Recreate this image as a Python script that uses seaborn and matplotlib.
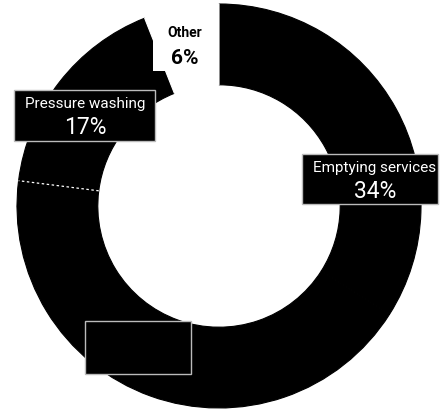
import matplotlib
matplotlib.use("Agg")
import matplotlib.pyplot as plt
import seaborn as sns
import numpy as np
from matplotlib.patches import Rectangle

# ---- data ----
categories = ["Emptying services", "Rental", "Pressure washing", "Other"]
shares = [34, 43, 17, 6]
wedge_colors = ["#000000", "#000000", "#000000", "#ffffff"]

sns.set_theme(style="white")
plt.rcParams["font.family"] = ["Roboto", "DejaVu Sans"]

W, H = 443, 410
fig = plt.figure(figsize=(W / 100, H / 100), dpi=100)
CX, CY, R = 219, 207, 202
ax = fig.add_axes([(CX - R) / W, (H - CY - R) / H, 2 * R / W, 2 * R / H])

wedges, _ = ax.pie(shares, startangle=90, counterclock=False,
                   colors=wedge_colors, radius=1,
                   wedgeprops=dict(width=0.4, linewidth=0.8))
for w, c in zip(wedges, wedge_colors):
    w.set_edgecolor(c)
ax.set_xlim(-1, 1)
ax.set_ylim(-1, 1)
ax.set_axis_off()

def d(px, py):
    return (px - CX) / R, (CY - py) / R

# dashed white separator between the unnamed segment and pressure washing
cum = np.cumsum(shares) / sum(shares)
th = np.deg2rad(90 - 360 * cum[1])
rr = np.array([0.6, 1.0])
ax.plot(rr * np.cos(th), rr * np.sin(th), color="white", lw=0.9,
        dashes=(2, 2), solid_capstyle="butt")

def box(x0, y0, x1, y1, fc, ec):
    (a, b), (c, e) = d(x0, y1), d(x1, y0)
    ax.add_patch(Rectangle((a, b), c - a, e - b, facecolor=fc, edgecolor=ec,
                           lw=1, clip_on=False, zorder=5))

def txt(px, py, s, size, color, weight="normal"):
    x, y = d(px, py)
    ax.text(x, y, s, ha="center", va="center", fontsize=size, color=color,
            fontweight=weight, clip_on=False, zorder=6)

# Other (white box)
box(153, 18, 217, 72, "white", "none")
txt(185, 33, categories[3], 10, "black", "bold")
txt(185, 58, f"{shares[3]}%", 15, "black", "bold")

# Pressure washing
box(14, 91, 155, 142, "black", "#bbbbbb")
txt(85, 104, categories[2], 11, "white")
txt(85, 128, f"{shares[2]}%", 16.5, "white")

# Emptying services
box(302, 155, 438, 205, "black", "#bbbbbb")
txt(375, 168, categories[0], 11, "white")
txt(375, 192, f"{shares[0]}%", 16.5, "white")

# unnamed segment (black text on black)
box(85, 322, 191, 375, "black", "#bbbbbb")
txt(138, 348, f"{shares[1]}%", 16.5, "black")

fig.savefig("out.png", dpi=100, facecolor="white")
